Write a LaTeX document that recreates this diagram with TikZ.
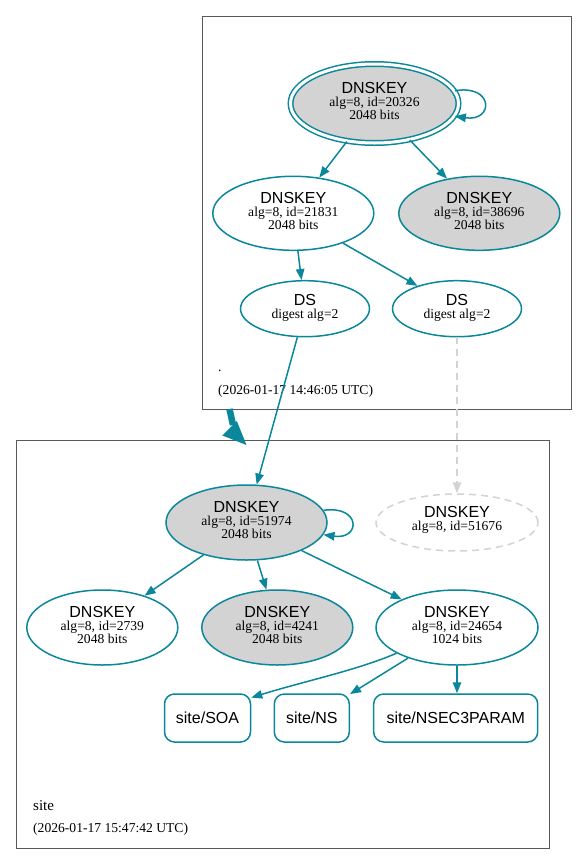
\documentclass[tikz,border=0pt]{standalone}
\usepackage{fontspec}
\setmainfont{Liberation Serif}
\setsansfont{Liberation Sans}
\usetikzlibrary{arrows.meta,shapes.geometric}

\definecolor{dnsteal}{HTML}{0A879A}
\definecolor{keygray}{HTML}{D3D3D3}
\newcommand{\keytitle}[1]{{\sffamily\fontsize{16}{13}\selectfont #1}}

\begin{document}
\begin{tikzpicture}[x=1pt,y=-1pt,
  key/.style={ellipse,draw=dnsteal,line width=1.5pt,inner sep=0pt,align=center,
    text depth=4.5pt,font=\fontsize{13.6}{13}\selectfont},
  rrset/.style={rectangle,rounded corners=10pt,draw=dnsteal,line width=1.5pt,inner sep=0pt,
    minimum height=48pt,font=\sffamily\fontsize{16}{16}\selectfont},
  edge/.style={draw=dnsteal,line width=1.5pt,-{Triangle[length=11pt,width=8.5pt]}},
  zone/.style={draw=black!65,line width=0.9pt},
  zonetext/.style={anchor=base west,inner sep=0pt,font=\fontsize{13.6}{13.6}\selectfont}]
  \useasboundingbox (0,0) rectangle (588,865);

  % Root zone
  \draw[zone] (202,16) rectangle (571,409);
  \node[key,fill=keygray,double=white,double distance=3pt,minimum width=168pt,minimum height=79pt]
    (rootksk) at (374.5,103.5) {\keytitle{DNSKEY}\\alg=8, id=20326\\2048 bits};
  \node[key,minimum width=161pt,minimum height=74pt] (rootzsk) at (293.3,213.3)
    {\keytitle{DNSKEY}\\alg=8, id=21831\\2048 bits};
  \node[key,fill=keygray,minimum width=161pt,minimum height=74pt] (rootkey) at (479.3,213.3)
    {\keytitle{DNSKEY}\\alg=8, id=38696\\2048 bits};
  \node[key,minimum width=129pt,minimum height=56pt] (rootdsa) at (305,308.7)
    {\keytitle{DS}\\digest alg=2};
  \node[key,minimum width=129pt,minimum height=56pt] (rootdsb) at (457,308.7)
    {\keytitle{DS}\\digest alg=2};
  \node[zonetext] (rootname) at (218,371.5) {.};
  \node[zonetext] (rootdate) at (218,394) {(2026-01-17 14:46:05 UTC)};

  % site zone
  \draw[zone] (16,440) rectangle (549,848);
  \node[key,fill=keygray,minimum width=161pt,minimum height=75pt] (siteksk) at (246.5,522.5)
    {\keytitle{DNSKEY}\\alg=8, id=51974\\2048 bits};
  \node[key,draw=keygray,dash pattern=on 7pt off 5pt,text depth=9pt,minimum width=162pt,minimum height=57pt]
    (sitegone) at (457,522.5) {\keytitle{DNSKEY}\\alg=8, id=51676};
  \node[key,minimum width=151pt,minimum height=75pt] (sitekeya) at (102.3,627.5)
    {\keytitle{DNSKEY}\\alg=8, id=2739\\2048 bits};
  \node[key,fill=keygray,minimum width=151pt,minimum height=75pt] (sitekeyb) at (277.3,627.5)
    {\keytitle{DNSKEY}\\alg=8, id=4241\\2048 bits};
  \node[key,minimum width=162pt,minimum height=75pt] (sitezsk) at (457,627.5)
    {\keytitle{DNSKEY}\\alg=8, id=24654\\1024 bits};
  \node[rrset,minimum width=86pt] (soa) at (207.5,718) {site/SOA};
  \node[rrset,minimum width=75pt] (ns) at (311.8,718) {site/NS};
  \node[rrset,minimum width=164pt] (nsec) at (455.7,718) {site/NSEC3PARAM};
  \node[zonetext,font=\fontsize{15}{15}\selectfont] (sitename) at (33,810.5) {site};
  \node[zonetext] (sitedate) at (33,832) {(2026-01-17 15:47:42 UTC)};

  % Edges
  \draw[edge] (rootksk.9) .. controls (494,84) and (494,122) .. (rootksk.-9);
  \draw[edge] (rootksk.-126) -- (rootzsk.54);
  \draw[edge] (rootksk.-46) -- (rootkey.133);
  \draw[edge] (rootzsk.-83) -- (rootdsa.97);
  \draw[edge] (rootzsk.-31) -- (rootdsb.150);
  \draw[edge] (rootdsa.-105) -- (siteksk.75);
  \draw[edge,draw=keygray,dash pattern=on 7pt off 5pt] (rootdsb.south) -- (sitegone.north);
  \draw[edge] (siteksk.9) .. controls (361,505) and (361,540) .. (siteksk.-9);
  \draw[edge] (siteksk.-143) -- (sitekeya.37);
  \draw[edge] (siteksk.-74) -- (sitekeyb.106);
  \draw[edge] (siteksk.-27) -- (sitezsk.153);
  \draw[edge] (sitezsk.-157) .. controls (358,670) and (305,681) .. (soa.25);
  \draw[edge] (sitezsk.-148) -- (ns.32);
  \draw[edge] (sitezsk.south) -- (sitezsk.south |- nsec.north);

  % Delegation
  \coordinate (delegtop) at (229.5,409);
  \coordinate (delegtip) at (246.5,445);
  \draw[dnsteal,line width=6.5pt] (delegtop) -- (233,425);
  \fill[dnsteal] (222.3,435.5) -- (delegtip) -- (236.8,421) -- cycle;
\end{tikzpicture}
\end{document}
